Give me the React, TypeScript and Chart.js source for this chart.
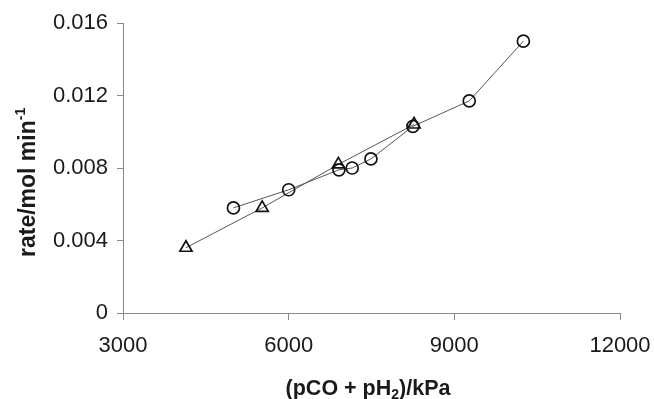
import React, { useEffect, useRef } from "react";
import { Chart, registerables } from "chart.js";

Chart.register(...registerables);

// Circles series: (pCO + pH2)/kPa vs rate/mol min^-1
const circleX = [5000, 6000, 6910, 7150, 7490, 8250, 9270, 10250];
const circleY = [0.0058, 0.0068, 0.0079, 0.0080, 0.0085, 0.0103, 0.0117, 0.0150];

// Triangles series
const triangleX = [4140, 5520, 6900, 8270];
const triangleY = [0.0036, 0.0058, 0.0082, 0.0104];

const xTicks = [3000, 6000, 9000, 12000];
const yTicks = [0, 0.004, 0.008, 0.012, 0.016];

const xTitleMain = "(pCO + pH";
const xTitleSub = "2";
const xTitleEnd = ")/kPa";
const yTitleMain = "rate/mol min";
const yTitleSup = "-1";

const FONT = "'Liberation Sans', Arial, Helvetica, sans-serif";

const titlePlugin = {
  id: "customTitles",
  afterDraw(chart: any) {
    const ctx = chart.ctx as CanvasRenderingContext2D;
    ctx.save();
    ctx.fillStyle = "#1a1a1a";
    ctx.textBaseline = "alphabetic";
    ctx.textAlign = "left";
    // X title
    const xBase = 395;
    const big = "bold 21.5px " + FONT;
    const small = "bold 14px " + FONT;
    ctx.font = big;
    const w1 = ctx.measureText(xTitleMain).width;
    ctx.font = small;
    const w2 = ctx.measureText(xTitleSub).width;
    ctx.font = big;
    const w3 = ctx.measureText(xTitleEnd).width;
    const total = w1 + w2 + w3;
    const x0 = 368 - total / 2;
    ctx.font = big;
    ctx.fillText(xTitleMain, x0, xBase);
    ctx.font = small;
    ctx.fillText(xTitleSub, x0 + w1, xBase + 4);
    ctx.font = big;
    ctx.fillText(xTitleEnd, x0 + w1 + w2, xBase);

    // Y title (rotated)
    ctx.translate(35, 257);
    ctx.rotate(-Math.PI / 2);
    const ybig = "bold 23px " + FONT;
    const ysmall = "bold 14px " + FONT;
    ctx.font = ybig;
    const yw = ctx.measureText(yTitleMain).width;
    ctx.fillText(yTitleMain, 0, 0);
    ctx.font = ysmall;
    ctx.fillText(yTitleSup, yw, -10);
    ctx.restore();
  },
};

export default function App() {
  const ref = useRef<HTMLCanvasElement | null>(null);

  useEffect(() => {
    if (!ref.current) return;
    const circles = circleX.map((x, i) => ({ x, y: circleY[i] }));
    const triangles = triangleX.map((x, i) => ({ x, y: triangleY[i] }));
    const chart = new Chart(ref.current, {
      type: "line",
      data: {
        datasets: [
          {
            label: "circles",
            data: circles,
            borderColor: "#555",
            borderWidth: 1,
            pointStyle: "circle",
            pointRadius: 6,
            pointBorderColor: "#111",
            pointBorderWidth: 1.7,
            pointBackgroundColor: "transparent",
            tension: 0,
            fill: false,
          },
          {
            label: "triangles",
            data: triangles,
            borderColor: "#555",
            borderWidth: 1,
            pointStyle: "triangle",
            pointRadius: 7,
            pointBorderColor: "#111",
            pointBorderWidth: 1.7,
            pointBackgroundColor: "transparent",
            tension: 0,
            fill: false,
          },
        ],
      },
      options: {
        responsive: false,
        animation: false,
        layout: { padding: { top: 23, right: 34, left: 0, bottom: 0 } },
        plugins: { legend: { display: false }, tooltip: { enabled: false } },
        scales: {
          x: {
            type: "linear",
            min: 3000,
            max: 12000,
            afterBuildTicks: (axis: any) => {
              axis.ticks = xTicks.map((v) => ({ value: v }));
            },
            afterFit: (axis: any) => {
              axis.height = 86;
              axis.paddingLeft = 0;
              axis.paddingRight = 0;
            },
            border: { display: true, color: "#888", width: 1 },
            grid: { display: true, drawOnChartArea: false, drawTicks: true, tickLength: 7, color: "#888" },
            ticks: {
              padding: 13,
              color: "#1a1a1a",
              font: { family: FONT, size: 22 },
              callback: (v: any) => String(v),
            },
          },
          y: {
            type: "linear",
            min: 0,
            max: 0.016,
            afterBuildTicks: (axis: any) => {
              axis.ticks = yTicks.map((v) => ({ value: v }));
            },
            afterFit: (axis: any) => {
              axis.width = 123;
              axis.paddingTop = 0;
              axis.paddingBottom = 0;
            },
            border: { display: true, color: "#888", width: 1 },
            grid: { display: true, drawOnChartArea: false, drawTicks: true, tickLength: 6, color: "#888" },
            ticks: {
              padding: 9,
              color: "#1a1a1a",
              font: { family: FONT, size: 22 },
              callback: (v: any) => (v === 0 ? "0" : Number(v).toFixed(3)),
            },
          },
        },
      },
      plugins: [titlePlugin],
    });
    return () => chart.destroy();
  }, []);

  return (
    <div style={{ position: "fixed", left: 0, top: 0, width: 654, height: 399, background: "#fff" }}>
      <canvas ref={ref} width={654} height={399} style={{ display: "block" }} />
    </div>
  );
}
